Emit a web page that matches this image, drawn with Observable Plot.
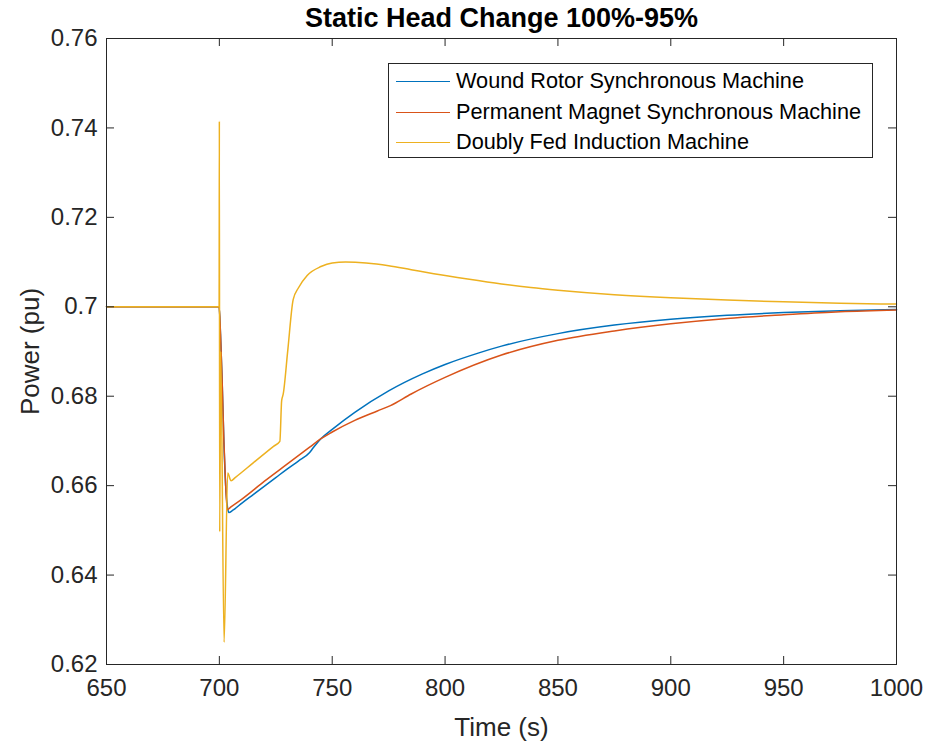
<!DOCTYPE html>
<html><head><meta charset="utf-8">
<script src="https://cdn.jsdelivr.net/npm/d3@7"></script>
<script src="https://cdn.jsdelivr.net/npm/@observablehq/plot@0.6"></script>
<style>
body{margin:0;background:#fff;}
#wrap{position:relative;width:928px;height:744px;font-family:"Liberation Sans",Arial,sans-serif;color:#262626}
#legend{position:absolute;left:388px;top:63px;width:485px;height:95px;box-sizing:border-box;border:1px solid #262626;background:#fff}
.row{position:absolute;left:0;height:30px;display:flex;align-items:center;font-size:21.7px;white-space:nowrap}
.sw{width:54px;height:0;border-top:1.5px solid;margin-left:7px;margin-right:6px}
</style></head><body><div id="wrap"></div>
<script>
const title = "Static Head Change 100%-95%";
const xLabel = "Time (s)";
const yLabel = "Power (pu)";
const xTicks = [650, 700, 750, 800, 850, 900, 950, 1000];
const yTicks = [0.62, 0.64, 0.66, 0.68, 0.70, 0.72, 0.74, 0.76];
const seriesNames = ["Wound Rotor Synchronous Machine", "Permanent Magnet Synchronous Machine", "Doubly Fed Induction Machine"];
const seriesColors = ["#0072BD", "#D95319", "#EDB120"];

// Wound Rotor Synchronous Machine
const wrsmT = [650, 699.9, 700.5, 701.2, 702, 702.8, 703.6, 704.2, 706, 710, 715, 720, 725, 730, 735, 740, 741.5, 745, 750, 760, 775, 790, 800, 815, 825, 850, 875, 900, 925, 950, 975, 1000];
const wrsmV = [0.700, 0.700, 0.694, 0.684, 0.670, 0.660, 0.6552, 0.6540, 0.6545, 0.6561, 0.6580, 0.6599, 0.6618, 0.6637, 0.6655, 0.6674, 0.6684, 0.6705, 0.6726, 0.6764, 0.6812, 0.6850, 0.6871, 0.6897, 0.6912, 0.6940, 0.6959, 0.6972, 0.6981, 0.6987, 0.6991, 0.6994];

// Permanent Magnet Synchronous Machine
const pmsmT = [650, 699.9, 700.5, 701.2, 702, 702.8, 703.5, 705, 710, 720, 730, 740, 745, 750, 760, 770, 775.8, 785, 800, 825, 850, 875, 900, 925, 950, 975, 1000];
const pmsmV = [0.700, 0.700, 0.694, 0.684, 0.670, 0.660, 0.6546, 0.6552, 0.6570, 0.6610, 0.6648, 0.6686, 0.6705, 0.6720, 0.6746, 0.6767, 0.6779, 0.6805, 0.6842, 0.6892, 0.6925, 0.6946, 0.6962, 0.6974, 0.6982, 0.6989, 0.6993];

// Doubly Fed Induction Machine
const dfimT = [650, 699.9, 700.0, 700.15, 700.6, 702.1, 703.7, 705.2, 707, 715, 724, 726.8, 727.6, 728.3, 730.3, 732.7, 735, 738.9, 745, 750, 755.9, 765, 775, 785, 795, 810, 825, 838, 850, 875, 900, 925, 950, 975, 1000];
const dfimV = [0.700, 0.700, 0.7415, 0.6497, 0.690, 0.625, 0.6628, 0.6611, 0.6618, 0.6651, 0.6688, 0.6699, 0.6790, 0.6805, 0.6902, 0.7016, 0.7042, 0.7070, 0.7090, 0.7098, 0.7100, 0.7098, 0.7092, 0.7083, 0.7074, 0.7062, 0.7051, 0.7043, 0.7037, 0.7027, 0.7020, 0.7015, 0.7011, 0.7008, 0.7006];

const toRows = (ts, vs) => ts.map((t, i) => ({t, v: vs[i]}));
const wrsm = toRows(wrsmT, wrsmV);
const pmsm = toRows(pmsmT, pmsmV);
const dfim = toRows(dfimT, dfimV);

const W = 928, H = 744, mL = 106, mR = 32, mT = 38, mB = 80;
const plotW = W - mL - mR, plotH = H - mT - mB;
const font = "'Liberation Sans', Arial, Helvetica, sans-serif";

const chart = Plot.plot({
  width: W, height: H,
  marginLeft: mL, marginRight: mR, marginTop: mT, marginBottom: mB,
  style: {fontFamily: font, color: "#262626", background: "white", overflow: "visible"},
  x: {domain: [650, 1000]},
  y: {domain: [0.62, 0.76]},
  marks: [
    Plot.line(wrsm, {x: "t", y: "v", stroke: seriesColors[0], strokeWidth: 1.5, curve: "monotone-x"}),
    Plot.line(pmsm, {x: "t", y: "v", stroke: seriesColors[1], strokeWidth: 1.5, curve: "monotone-x"}),
    Plot.line(dfim, {x: "t", y: "v", stroke: seriesColors[2], strokeWidth: 1.5, curve: "monotone-x"}),
    Plot.frame({stroke: "#262626", strokeWidth: 1}),
    Plot.tickX(xTicks, {x: d => d, stroke: "#262626", insetTop: plotH - 8}),
    Plot.tickX(xTicks, {x: d => d, stroke: "#262626", insetBottom: plotH - 8}),
    Plot.tickY(yTicks, {y: d => d, stroke: "#262626", insetRight: plotW - 8}),
    Plot.tickY(yTicks, {y: d => d, stroke: "#262626", insetLeft: plotW - 8}),
    Plot.axisX({ticks: xTicks, tickSize: 0, tickPadding: 14, fontSize: 24, label: null, tickFormat: d => String(d)}),
    Plot.axisY({ticks: yTicks, tickSize: 0, tickPadding: 9, fontSize: 24, label: null, tickFormat: d => String(+d.toFixed(2))}),
    Plot.text([xLabel], {text: d => d, frameAnchor: "bottom", lineAnchor: "middle", dy: 63, fontSize: 26, fill: "#262626"}),
    Plot.text([yLabel], {text: d => d, frameAnchor: "left", textAnchor: "middle", lineAnchor: "middle", dx: -76, rotate: -90, fontSize: 26, fill: "#262626"}),
    Plot.text([title], {text: d => d, frameAnchor: "top", lineAnchor: "middle", dy: -20, fontSize: 27, fontWeight: "bold", fill: "#000"})
  ]
});

const wrap = document.getElementById("wrap");
wrap.appendChild(chart);

const legend = document.createElement("div");
legend.id = "legend";
const rowTops = [2, 33, 63];
seriesNames.forEach((name, i) => {
  const row = document.createElement("div");
  row.className = "row";
  row.style.top = rowTops[i] + "px";
  const sw = document.createElement("span");
  sw.className = "sw";
  sw.style.borderTopColor = seriesColors[i];
  const tx = document.createElement("span");
  tx.textContent = name;
  tx.style.color = "#000";
  row.appendChild(sw);
  row.appendChild(tx);
  legend.appendChild(row);
});
wrap.appendChild(legend);
</script>
</body></html>
